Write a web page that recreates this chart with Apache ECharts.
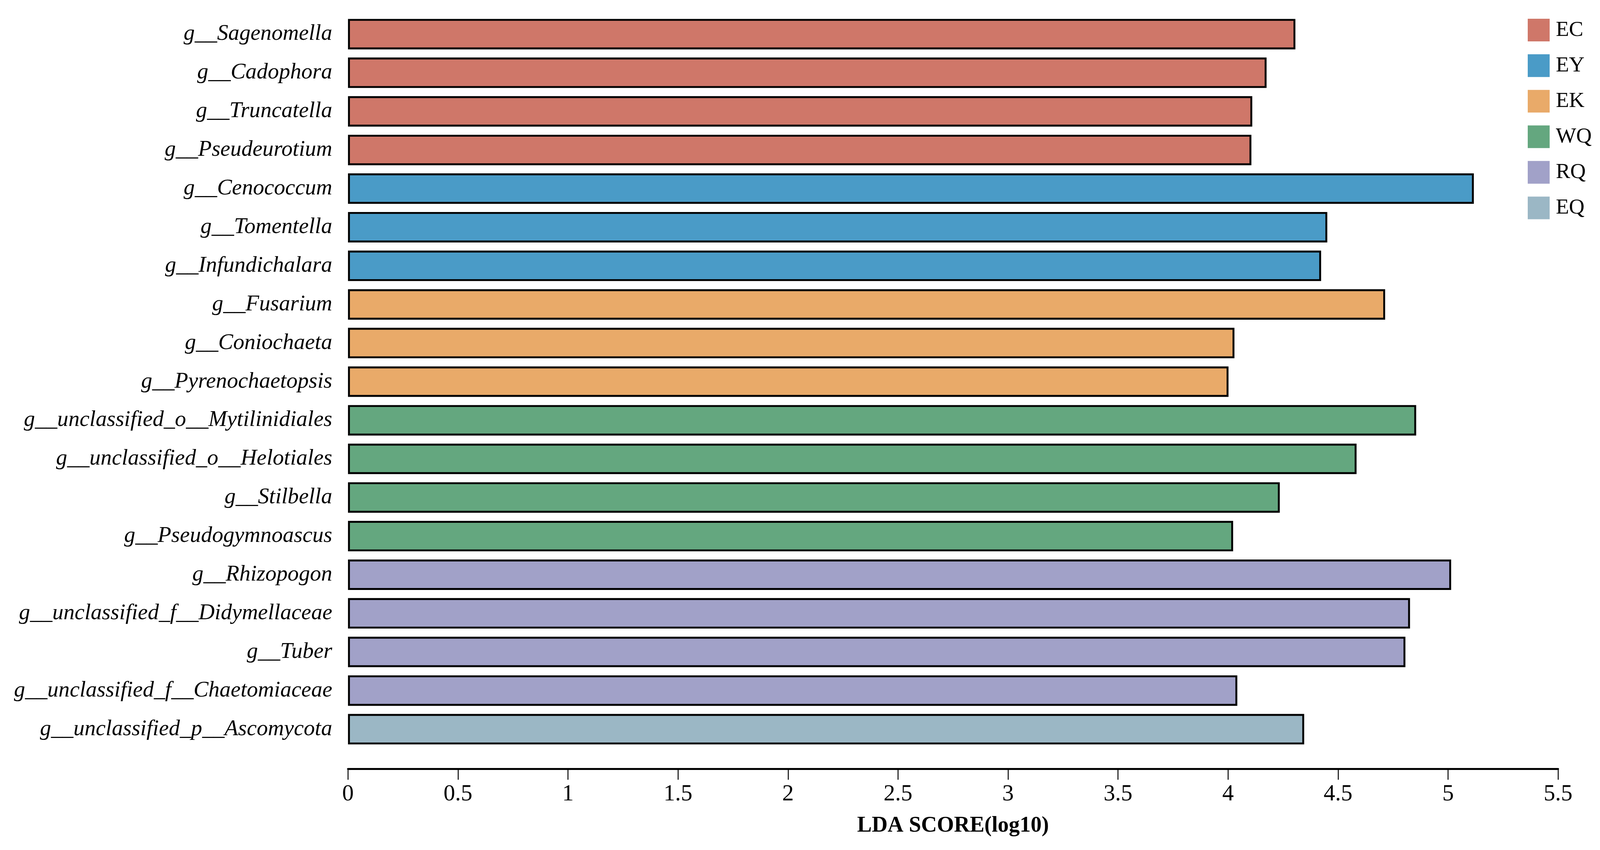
<!DOCTYPE html>
<html>
<head>
<meta charset="utf-8">
<script src="https://cdn.jsdelivr.net/npm/echarts@6/dist/echarts.min.js"></script>
<style>
html,body{margin:0;padding:0;background:#fff;overflow:hidden;width:100%;height:100%;}
#chart{position:absolute;left:0;top:0;width:100vw;height:100vh;}
</style>
</head>
<body>
<div id="chart"></div>
<script>
var categories = [
  'g__Sagenomella','g__Cadophora','g__Truncatella','g__Pseudeurotium',
  'g__Cenococcum','g__Tomentella','g__Infundichalara',
  'g__Fusarium','g__Coniochaeta','g__Pyrenochaetopsis',
  'g__unclassified_o__Mytilinidiales','g__unclassified_o__Helotiales','g__Stilbella','g__Pseudogymnoascus',
  'g__Rhizopogon','g__unclassified_f__Didymellaceae','g__Tuber','g__unclassified_f__Chaetomiaceae',
  'g__unclassified_p__Ascomycota'
];
var values = [
  4.306, 4.175, 4.110, 4.106,
  5.117, 4.451, 4.423,
  4.714, 4.029, 4.002,
  4.855, 4.584, 4.235, 4.023,
  5.014, 4.827, 4.806, 4.042,
  4.346
];
var groupOf = [
  'EC','EC','EC','EC',
  'EY','EY','EY',
  'EK','EK','EK',
  'WQ','WQ','WQ','WQ',
  'RQ','RQ','RQ','RQ',
  'EQ'
];
var groups = ['EC','EY','EK','WQ','RQ','EQ'];
var groupColors = ['#CF7769','#4A9BC7','#E9AA69','#64A77F','#A1A1C8','#9BB7C5'];
var xTicks = [0,0.5,1,1.5,2,2.5,3,3.5,4,4.5,5,5.5];

var FONT = '"Liberation Serif","Times New Roman",serif';

var el = document.getElementById('chart');
var W = el.clientWidth || window.innerWidth || 4161;
var H = el.clientHeight || window.innerHeight || 2177;
var sx = W / 4161, sy = H / 2177, s = Math.min(sx, sy);

var series = groups.map(function(g, gi){
  return {
    name: g,
    type: 'bar',
    stack: 'all',
    barWidth: 78 * sy,
    data: values.map(function(v, i){ return groupOf[i] === g ? v : '-'; }),
    itemStyle: { color: groupColors[gi], borderColor: '#000', borderWidth: 5 * s },
    emphasis: { disabled: true }
  };
});

var chart = echarts.init(el, null, { width: W, height: H });
chart.setOption({
  backgroundColor: '#fff',
  animation: false,
  color: groupColors,
  legend: {
    data: groups,
    orient: 'vertical',
    left: 3968 * sx,
    top: 43 * sy,
    itemWidth: 57 * s,
    itemHeight: 59 * s,
    itemGap: 33 * sy,
    icon: 'rect',
    itemStyle: { borderWidth: 0 },
    textStyle: { fontFamily: FONT, fontSize: 56 * s, color: '#000', padding: [0, 0, 0, 11 * s] }
  },
  grid: { left: 905 * sx, right: 109 * sx, top: 38 * sy, bottom: 260 * sy, containLabel: false },
  xAxis: {
    type: 'value',
    min: 0,
    max: 5.5,
    interval: 0.5,
    offset: 52 * sy,
    axisLine: { show: true, onZero: false, lineStyle: { color: '#000', width: 5 * s } },
    axisTick: { show: true, length: 28 * sy, lineStyle: { color: '#000', width: 2.5 * s } },
    splitLine: { show: false },
    axisLabel: {
      margin: 36 * sy,
      fontFamily: FONT, fontSize: 60 * s, color: '#000',
      formatter: function(v){ return String(v); },
      showMaxLabel: true, showMinLabel: true
    },
    name: 'LDA SCORE(log10)',
    nameLocation: 'middle',
    nameGap: 118 * sy,
    nameTextStyle: { fontFamily: FONT, fontSize: 57 * s, fontWeight: 'bold', color: '#000' }
  },
  yAxis: {
    type: 'category',
    data: categories,
    inverse: true,
    axisLine: { show: false },
    axisTick: { show: false },
    splitLine: { show: false },
    axisLabel: {
      margin: 41 * sx,
      fontFamily: FONT, fontSize: 58 * s, fontStyle: 'italic', color: '#000',
      interval: 0
    }
  },
  series: series
});
</script>
</body>
</html>
